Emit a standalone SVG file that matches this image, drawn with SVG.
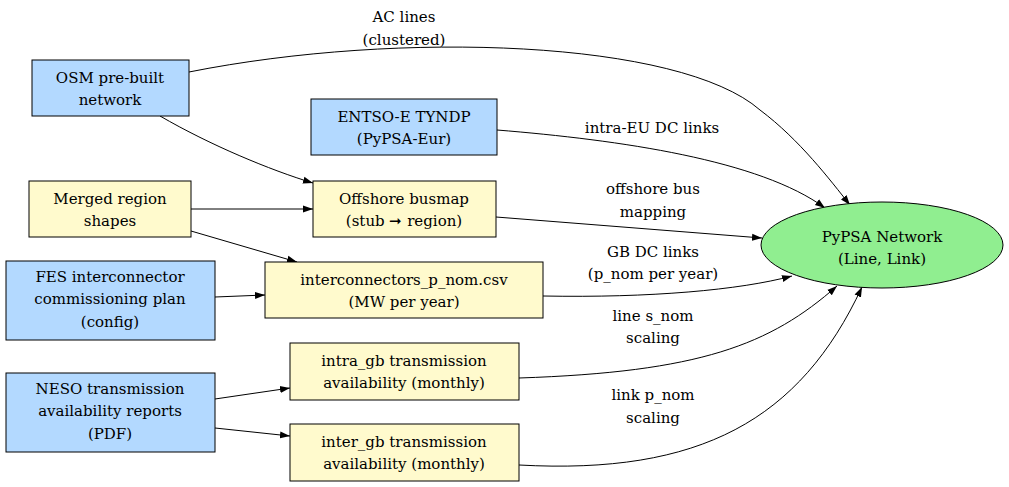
<svg xmlns="http://www.w3.org/2000/svg" width="1009" height="487" viewBox="0 0 1009 487">
<style>
text{font-family:"DejaVu Serif","Liberation Serif",serif;font-size:15px;fill:#000;text-anchor:middle}
.b{fill:#b3d9ff;stroke:#000;stroke-width:1}
.y{fill:#fffacd;stroke:#000;stroke-width:1}
.e{fill:none;stroke:#000;stroke-width:1;marker-end:url(#a)}
</style>
<defs><marker id="a" viewBox="0 0 10 10" refX="10" refY="5" markerWidth="10" markerHeight="10" markerUnits="userSpaceOnUse" orient="auto"><path d="M0,1.5 L10,5 L0,8.5z" fill="#000"/></marker></defs>
<rect width="1009" height="487" fill="#fff"/>
<g id="edges">
<path class="e" d="M189,72 C400,30 680,40 760,110 C800,140 830,180 850,205"/>
<path class="e" d="M160,116 C210,145 270,170 313,183"/>
<path class="e" d="M497,130 C620,140 760,160 825,208"/>
<path class="e" d="M191,209 L313,209"/>
<path class="e" d="M191,231 L297,262"/>
<path class="e" d="M496,217 L762,238"/>
<path class="e" d="M215,297 L265,295"/>
<path class="e" d="M543,296 C650,298 740,290 792,276"/>
<path class="e" d="M215,399 L290,388"/>
<path class="e" d="M215,428 L290,436"/>
<path class="e" d="M519,378 C700,372 770,345 837,286"/>
<path class="e" d="M519,465 C700,475 800,420 862,287"/>
<text x="404" y="22">AC lines</text><text x="404" y="45">(clustered)</text>
<text x="652" y="133">intra-EU DC links</text>
<text x="653" y="194">offshore bus</text><text x="653" y="217">mapping</text>
<text x="653" y="257">GB DC links</text><text x="653" y="279">(p_nom per year)</text>
<text x="653" y="321">line s_nom</text><text x="653" y="343">scaling</text>
<text x="653" y="400">link p_nom</text><text x="653" y="423">scaling</text>
</g>
<g id="osm"><rect class="b" x="32" y="60" width="157" height="56"/><text x="110" y="83">OSM pre-built</text><text x="110" y="105">network</text></g>
<g id="entsoe"><rect class="b" x="311" y="99" width="186" height="56"/><text x="404" y="122">ENTSO-E TYNDP</text><text x="404" y="144">(PyPSA-Eur)</text></g>
<g id="merged"><rect class="y" x="29" y="181" width="162" height="56"/><text x="110" y="204">Merged region</text><text x="110" y="226">shapes</text></g>
<g id="busmap"><rect class="y" x="313" y="181" width="183" height="56"/><text x="404" y="204">Offshore busmap</text><text x="404" y="226">(stub ➞ region)</text></g>
<g id="fes"><rect class="b" x="6" y="261" width="209" height="79"/><text x="110" y="282">FES interconnector</text><text x="110" y="304">commissioning plan</text><text x="110" y="327">(config)</text></g>
<g id="ic"><rect class="y" x="265" y="262" width="278" height="56"/><text x="404" y="285">interconnectors_p_nom.csv</text><text x="404" y="307">(MW per year)</text></g>
<g id="neso"><rect class="b" x="6" y="373" width="209" height="79"/><text x="110" y="394">NESO transmission</text><text x="110" y="416">availability reports</text><text x="110" y="439">(PDF)</text></g>
<g id="intra"><rect class="y" x="290" y="343" width="229" height="57"/><text x="404" y="366">intra_gb transmission</text><text x="404" y="388">availability (monthly)</text></g>
<g id="inter"><rect class="y" x="290" y="424" width="229" height="57"/><text x="404" y="447">inter_gb transmission</text><text x="404" y="469">availability (monthly)</text></g>
<g id="pypsa"><ellipse cx="882" cy="245" rx="121" ry="43" fill="#90ee90" stroke="#000"/><text x="882" y="242">PyPSA Network</text><text x="882" y="264">(Line, Link)</text></g>
</svg>
